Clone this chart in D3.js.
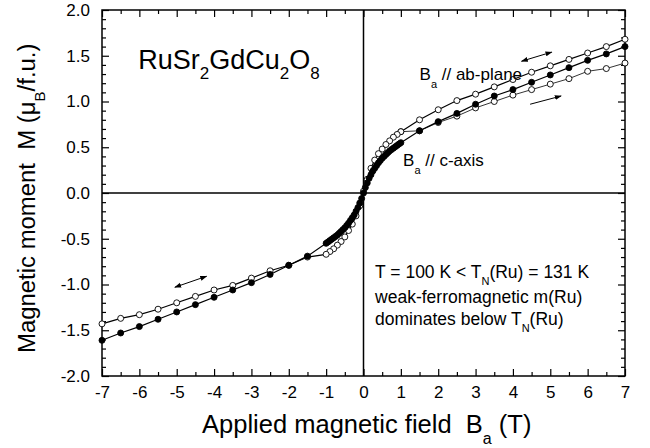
<!DOCTYPE html>
<html>
<head>
<meta charset="utf-8">
<script src="https://cdn.jsdelivr.net/npm/d3@7"></script>
<style>
  body { margin: 0; background: #fff; }
  svg text { font-family: "Liberation Sans", Arial, sans-serif; fill: #000; white-space: pre; }
</style>
</head>
<body>
<script>
// field values (T) and magnetisation (muB/f.u.)
// ab-plane, field decreasing from +7 T down to -7 T (open circles, upper branch)
const abDownB = [7, 6.5, 6, 5.5, 5, 4.5, 4, 3.5, 3, 2.5, 2, 1.5, 1,
  0.9, 0.8, 0.7, 0.6, 0.5, 0.4, 0.3, 0.2, 0.1, 0,
  -0.1, -0.2, -0.3, -0.4, -0.5, -0.6, -0.7, -0.8, -0.9, -1,
  -1.5, -2, -2.5, -3, -3.5, -4, -4.5, -5, -5.5, -6, -6.5, -7];
const abDownM = [1.68, 1.60, 1.53, 1.46, 1.39, 1.32, 1.24, 1.16, 1.08, 1.01, 0.91, 0.80, 0.67,
  0.64, 0.61, 0.57, 0.53, 0.48, 0.43, 0.36, 0.27, 0.15, 0.02,
  -0.14, -0.25, -0.34, -0.41, -0.48, -0.53, -0.57, -0.61, -0.64, -0.67,
  -0.70, -0.79, -0.85, -0.93, -1.01, -1.06, -1.13, -1.20, -1.27, -1.33, -1.37, -1.43];

// ab-plane, field increasing (open circles, lower branch, thin line)
const abUpB = [1, 1.5, 2, 2.5, 3, 3.5, 4, 4.5, 5, 5.5, 6, 6.5, 7];
const abUpM = [0.67, 0.68, 0.77, 0.84, 0.93, 1.00, 1.07, 1.13, 1.19, 1.25, 1.33, 1.36, 1.42];

// c-axis (filled circles)
const cB = [-7, -6.5, -6, -5.5, -5, -4.5, -4, -3.5, -3, -2.5, -2, -1.5,
  -1, -0.95, -0.9, -0.85, -0.8, -0.75, -0.7, -0.65, -0.6, -0.55, -0.5, -0.45, -0.4, -0.35, -0.3, -0.25, -0.2, -0.15, -0.1, -0.05,
  0, 0.05, 0.1, 0.15, 0.2, 0.25, 0.3, 0.35, 0.4, 0.45, 0.5, 0.55, 0.6, 0.65, 0.7, 0.75, 0.8, 0.85, 0.9, 0.95, 1,
  1.5, 2, 2.5, 3, 3.5, 4, 4.5, 5, 5.5, 6, 6.5, 7];
const cM = [-1.61, -1.53, -1.46, -1.38, -1.30, -1.22, -1.14, -1.06, -0.98, -0.89, -0.79, -0.69,
  -0.55, -0.535, -0.52, -0.505, -0.49, -0.475, -0.46, -0.44, -0.42, -0.40, -0.38, -0.355, -0.33, -0.30, -0.27, -0.24, -0.20, -0.16, -0.11, -0.06,
  0.0, 0.06, 0.11, 0.16, 0.20, 0.24, 0.27, 0.30, 0.33, 0.355, 0.38, 0.40, 0.42, 0.44, 0.46, 0.475, 0.49, 0.505, 0.52, 0.535, 0.55,
  0.68, 0.78, 0.87, 0.97, 1.06, 1.13, 1.21, 1.29, 1.37, 1.45, 1.52, 1.60];

// axis ticks
const xTicks = [-7, -6, -5, -4, -3, -2, -1, 0, 1, 2, 3, 4, 5, 6, 7];
const xTickLabels = ["-7", "-6", "-5", "-4", "-3", "-2", "-1", "0", "1", "2", "3", "4", "5", "6", "7"];
const yTicks = [-2, -1.5, -1, -0.5, 0, 0.5, 1, 1.5, 2];
const yTickLabels = ["-2.0", "-1.5", "-1.0", "-0.5", "0.0", "0.5", "1.0", "1.5", "2.0"];

// sweep direction arrows [B1, M1, B2, M2, doubleHeaded]
const arrows = [
  [4.23, 1.44, 5.04, 1.54, true],
  [4.46, 0.97, 5.29, 1.06, false],
  [-5.05, -1.03, -4.2, -0.91, true]
];

const width = 650, height = 448;
const margin = {top: 10, right: 25, bottom: 72, left: 102};

const x = d3.scaleLinear().domain([-7, 7]).range([margin.left, width - margin.right]);
const y = d3.scaleLinear().domain([-2, 2]).range([height - margin.bottom, margin.top]);

const svg = d3.select("body").append("svg")
  .attr("width", width)
  .attr("height", height)
  .attr("xmlns", "http://www.w3.org/2000/svg");

const defs = svg.append("defs");
defs.append("marker")
  .attr("id", "head")
  .attr("viewBox", "0 0 10 10")
  .attr("refX", 9).attr("refY", 5)
  .attr("markerWidth", 7).attr("markerHeight", 7)
  .attr("markerUnits", "userSpaceOnUse")
  .attr("orient", "auto-start-reverse")
  .append("path")
  .attr("d", "M0,1.5 L10,5 L0,8.5 Z")
  .attr("fill", "#000");

// minor ticks
const xMinor = d3.range(-7, 7.01, 0.5).filter(v => !xTicks.includes(v));
const yMinor = d3.range(-20, 21).map(v => v / 10).filter(v => !yTicks.some(t => Math.abs(t - v) < 1e-6));

function styleAxis(g) {
  g.select(".domain").remove();
  g.selectAll(".tick line").attr("stroke", "#000").attr("stroke-width", 1.2);
  g.selectAll(".tick text").attr("font-size", 17).attr("font-family", "Liberation Sans, Arial, sans-serif");
}

// bottom
svg.append("g")
  .attr("transform", `translate(0,${y(-2)})`)
  .call(d3.axisBottom(x).tickValues(xTicks).tickSize(-7).tickPadding(10)
    .tickFormat((d, i) => xTickLabels[i]))
  .call(styleAxis);
svg.append("g")
  .attr("transform", `translate(0,${y(-2)})`)
  .call(d3.axisBottom(x).tickValues(xMinor).tickSize(-4).tickFormat(""))
  .call(styleAxis);
// top
svg.append("g")
  .attr("transform", `translate(0,${y(2)})`)
  .call(d3.axisTop(x).tickValues(xTicks).tickSize(-7).tickFormat(""))
  .call(styleAxis);
svg.append("g")
  .attr("transform", `translate(0,${y(2)})`)
  .call(d3.axisTop(x).tickValues(xMinor).tickSize(-4).tickFormat(""))
  .call(styleAxis);
// left
svg.append("g")
  .attr("transform", `translate(${x(-7)},0)`)
  .call(d3.axisLeft(y).tickValues(yTicks).tickSize(-7).tickPadding(12)
    .tickFormat((d, i) => yTickLabels[i]))
  .call(styleAxis);
svg.append("g")
  .attr("transform", `translate(${x(-7)},0)`)
  .call(d3.axisLeft(y).tickValues(yMinor).tickSize(-4).tickFormat(""))
  .call(styleAxis);
// right
svg.append("g")
  .attr("transform", `translate(${x(7)},0)`)
  .call(d3.axisRight(y).tickValues(yTicks).tickSize(-7).tickFormat(""))
  .call(styleAxis);
svg.append("g")
  .attr("transform", `translate(${x(7)},0)`)
  .call(d3.axisRight(y).tickValues(yMinor).tickSize(-4).tickFormat(""))
  .call(styleAxis);

// frame
svg.append("rect")
  .attr("x", x(-7)).attr("y", y(2))
  .attr("width", x(7) - x(-7)).attr("height", y(-2) - y(2))
  .attr("fill", "none").attr("stroke", "#000").attr("stroke-width", 1.5);

// zero lines
svg.append("line")
  .attr("x1", x(-7)).attr("x2", x(7)).attr("y1", y(0)).attr("y2", y(0))
  .attr("stroke", "#000").attr("stroke-width", 1.5);
svg.append("line")
  .attr("x1", x(0)).attr("x2", x(0)).attr("y1", y(-2)).attr("y2", y(2))
  .attr("stroke", "#000").attr("stroke-width", 1.5);

const line = d3.line().x(d => x(d[0])).y(d => y(d[1]));
const abDown = abDownB.map((b, i) => [b, abDownM[i]]);
const abUp = abUpB.map((b, i) => [b, abUpM[i]]);
const cAxis = cB.map((b, i) => [b, cM[i]]);

function drawSeries(data, lw, filled) {
  svg.append("path")
    .datum(data)
    .attr("d", line)
    .attr("fill", "none")
    .attr("stroke", "#000")
    .attr("stroke-width", lw);
  svg.append("g").selectAll("circle")
    .data(data)
    .enter()
    .append("circle")
    .attr("cx", d => x(d[0]))
    .attr("cy", d => y(d[1]))
    .attr("r", 3)
    .attr("fill", filled ? "#000" : "#fff")
    .attr("stroke", "#000")
    .attr("stroke-width", 0.9);
}

drawSeries(abUp, 0.8, false);
drawSeries(abDown, 1.2, false);
drawSeries(cAxis, 1.2, true);

// arrows
arrows.forEach(a => {
  svg.append("line")
    .attr("x1", x(a[0])).attr("y1", y(a[1]))
    .attr("x2", x(a[2])).attr("y2", y(a[3]))
    .attr("stroke", "#000").attr("stroke-width", 1)
    .attr("marker-end", "url(#head)")
    .attr("marker-start", a[4] ? "url(#head)" : null);
});

// text with subscripts: parts = [[string, isSub], ...]
function subLabel(xp, yp, size, parts, subShift) {
  const shiftK = subShift || 0.42;
  const t = svg.append("text").attr("x", xp).attr("y", yp).attr("font-size", size);
  let shift = 0;
  parts.forEach(p => {
    const target = p[1] ? Math.round(size * shiftK) : 0;
    t.append("tspan")
      .attr("dy", target - shift)
      .attr("font-size", p[1] ? Math.round(size * 0.64) : size)
      .text(p[0]);
    shift = target;
  });
  return t;
}

// scale a label so its length matches the given pixel length
function fitLabel(xp, yp, parts, targetLen) {
  const probe = subLabel(xp, yp, 20, parts);
  const len = probe.node().getComputedTextLength();
  probe.remove();
  return subLabel(xp, yp, 20 * targetLen / len, parts);
}

// compound label
subLabel(x(-6.03), y(1.36), 27, [["RuSr", 0], ["2", 1], ["GdCu", 0], ["2", 1], ["O", 0], ["8", 1]], 0.38);

subLabel(x(1.5), y(1.24), 17, [["B", 0], ["a", 1], [" // ab-plane", 0]], 0.45);
subLabel(x(1.06), y(0.29), 17, [["B", 0], ["a", 1], [" // c-axis", 0]], 0.45);
subLabel(x(0.31), y(-0.93), 17.5, [["T = 100 K < T", 0], ["N", 1], ["(Ru) = 131 K", 0]]);
subLabel(x(0.31), y(-1.2), 17.5, [["weak-ferromagnetic m(Ru)", 0]]);
subLabel(x(0.31), y(-1.44), 17.5, [["dominates below T", 0], ["N", 1], ["(Ru)", 0]]);

// axis titles
fitLabel(202, 433, [["Applied magnetic field  B", 0], ["a", 1], [" (T)", 0]], 330);
fitLabel(0, 0, [["Magnetic moment  M (\u03bc", 0], ["B", 1], ["/f.u.)", 0]], 310)
  .attr("transform", `translate(35,353) rotate(-90)`);
</script>
</body>
</html>
